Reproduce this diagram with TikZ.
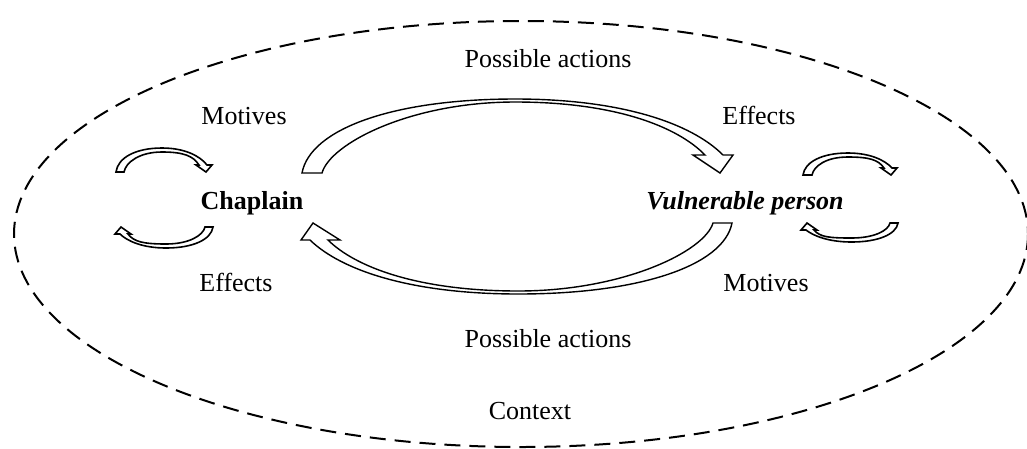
\documentclass[tikz,border=0pt]{standalone}
\usepackage{fontspec}
\setmainfont{Liberation Serif}
\tikzset{
  blockarrow/.style={draw=black, fill=white, line width=1.4pt, line join=miter},
  smallarrow/.style={blockarrow/.append style={line width=1.6pt}},
  contextline/.style={draw=black, line width=2pt, dash pattern=on 16pt off 9pt},
  lbl/.style={anchor=base, inner sep=0pt, font=\fontsize{26}{30}\selectfont},
}
% #1 L (tip x), #2 H (apex height), #3 tail width, #4 thinning at apex,
% #5 head base height, #6 inner wing offset, #7 outer wing offset,
% #8 inner band end offset, #9 outer band end offset
\newcommand\curvedblock[9]{%
  \path[blockarrow] (0,0)
    .. controls ({0.02*#1},{0.6*#2}) and ({0.22*#1},{#2}) .. ({0.51*#1},{#2})
    .. controls ({0.76*#1},{#2}) and ({0.93*#1},{0.68*#2}) .. ({#1+#9},{#5})
    -- ({#1+#7},{#5}) -- (#1,0) -- ({#1-#6},{#5}) -- ({#1-#8},{#5})
    .. controls ({0.935*#1-#8},{#5+0.38*#2}) and ({0.75*#1},{#2-#4}) .. ({0.51*#1},{#2-#4})
    .. controls ({0.26*#1},{#2-#4}) and ({#3+0.02*#1},{0.4*#2}) .. (#3,0) -- cycle;}
\begin{document}
\begin{tikzpicture}[x=1pt,y=-1pt]
  \useasboundingbox (0,0) rectangle (1027,448);
  % context ellipse
  \path[contextline] (521,234) ellipse [x radius=507, y radius=213];
  % big arrows
  \begin{scope}[shift={(302,173)}, yscale=-1]
    \curvedblock{418}{74}{20}{3}{18}{27}{13}{15}{3}
  \end{scope}
  \begin{scope}[shift={(732,223)}, xscale=-1]
    \curvedblock{419}{71}{19}{3}{17}{27}{12}{15}{3}
  \end{scope}
  % small arrows, chaplain
  \begin{scope}[shift={(116,172)}, yscale=-1, smallarrow]
    \curvedblock{90}{24}{8}{4}{7}{10}{6}{7}{1}
  \end{scope}
  \begin{scope}[shift={(213,227)}, xscale=-1, smallarrow]
    \curvedblock{92}{21}{8}{4}{7}{10}{6}{7}{1}
  \end{scope}
  % small arrows, vulnerable person
  \begin{scope}[shift={(803,175)}, yscale=-1, smallarrow]
    \curvedblock{88}{22}{9}{4}{7}{10}{6}{7}{1}
  \end{scope}
  \begin{scope}[shift={(898,223)}, xscale=-1, smallarrow]
    \curvedblock{91}{19}{8}{4}{7}{10}{6}{7}{1}
  \end{scope}
  % labels
  \node[lbl] (pa1) at (548,67) {Possible actions};
  \node[lbl] (mo1) at (244,124) {Motives};
  \node[lbl] (ef1) at (759,124) {Effects};
  \node[lbl, font=\fontsize{26}{30}\selectfont\bfseries] (ch) at (252,209) {Chaplain};
  \node[lbl, font=\fontsize{26}{30}\selectfont\bfseries\itshape] (vp) at (745,209) {Vulnerable person};
  \node[lbl] (ef2) at (236,291) {Effects};
  \node[lbl] (mo2) at (766,291) {Motives};
  \node[lbl] (pa2) at (548,347) {Possible actions};
  \node[lbl] (ctx) at (530,419) {Context};
\end{tikzpicture}
\end{document}
